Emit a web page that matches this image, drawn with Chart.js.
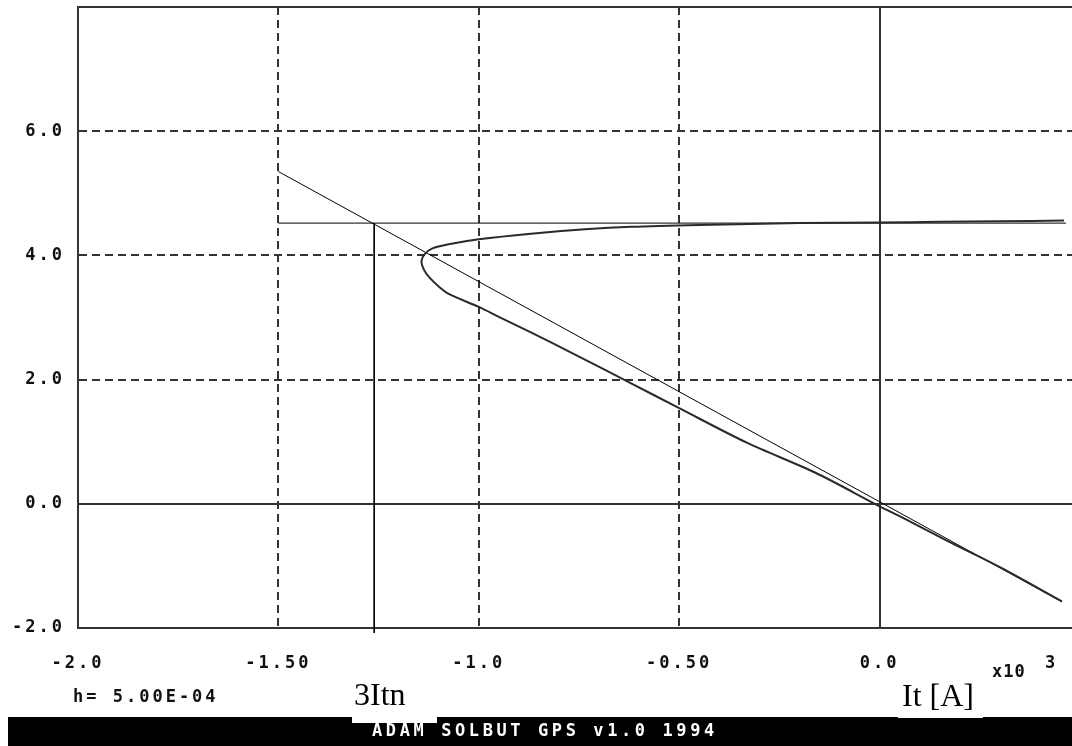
<!DOCTYPE html>
<html>
<head>
<meta charset="utf-8">
<script src="https://cdn.jsdelivr.net/npm/chart.js@4"></script>
<style>
  body { margin: 0; background: #fff; overflow: hidden; }
  #wrap { position: absolute; left: 0; top: 0; width: 1072px; height: 746px; }
  .mono { position: absolute; font-family: "DejaVu Sans Mono", monospace; font-weight: bold; font-size: 17px; line-height: 17px; color: #111; letter-spacing: 3px; white-space: nowrap; }
  .serif { position: absolute; font-family: "Liberation Serif", "Times New Roman", serif; font-size: 32px; line-height: 32px; color: #000; white-space: nowrap; }
  .box { position: absolute; background: #fff; }
  #bar { position: absolute; left: 8px; top: 717px; width: 1064px; height: 29px; background: #000; }
</style>
</head>
<body>
<div id="wrap"><canvas id="chart"></canvas></div>
<div id="bar"></div>
<div class="box" style="left:352px; top:676px; width:85px; height:47px;"></div>
<div class="box" style="left:898px; top:676px; width:85px; height:42px;"></div>
<div class="mono" style="left:73px; top:688px;">h= 5.00E-04</div>
<div class="mono" style="left:992px; top:663px; letter-spacing:1px;">x10</div>
<div class="mono" style="left:1045px; top:654px;">3</div>
<div class="mono" style="left:372px; top:722px; color:#fff; letter-spacing:3.6px;">ADAM SOLBUT GPS v1.0 1994</div>
<div class="serif" style="left:354px; top:678px;">3Itn</div>
<div class="serif" style="left:902px; top:679px;">It [A]</div>
<script>
// tick values and labels
const xTicks = [-2, -1.5, -1, -0.5, 0];
const xTickLabels = ["-2.0", "-1.50", "-1.0", "-0.50", "0.0"];
const yTicks = [-2, 0, 2, 4, 6];
const yTickLabels = ["-2.0", "0.0", "2.0", "4.0", "6.0"];

// characteristic curve (upper branch right->left, nose, lower branch left->right)
const curveX = [0.46, 0.3, 0.15, 0.0, -0.2, -0.45, -0.62, -0.735, -0.87, -1.0, -1.075, -1.117, -1.135, -1.143,
  -1.137, -1.124, -1.1, -1.075, -1.0, -0.95, -0.87, -0.75, -0.62, -0.5, -0.33, -0.16, 0.0, 0.05, 0.17, 0.3, 0.455];
const curveY = [4.56, 4.55, 4.54, 4.53, 4.52, 4.49, 4.46, 4.42, 4.35, 4.26, 4.18, 4.11, 4.02, 3.91,
  3.77, 3.65, 3.5, 3.38, 3.17, 3.01, 2.76, 2.37, 1.94, 1.54, 0.98, 0.5, -0.04, -0.2, -0.6, -1.02, -1.57];

// straight load line
const loadX = [-1.5, 0.455];
const loadY = [5.35, -1.58];

// 3Itn marker lines
const levelX = [-1.5, 0.465];
const levelY = [4.52, 4.52];
const itnX = [-1.261, -1.261];
const itnY = [4.52, -2.08];

function pts(xs, ys) {
  return xs.map((x, i) => ({ x: x, y: ys[i] }));
}

const tickFont = { family: "DejaVu Sans Mono", weight: "bold", size: 17 };

const spacingPlugin = {
  id: "spacing",
  beforeDraw(chart) { chart.ctx.letterSpacing = "3px"; },
  afterDraw(chart) {
    chart.ctx.letterSpacing = "0px";
    // top frame line
    const a = chart.chartArea;
    const ctx = chart.ctx;
    ctx.save();
    ctx.strokeStyle = "#333";
    ctx.lineWidth = 2;
    ctx.beginPath();
    ctx.moveTo(a.left - 1, Math.round(a.top));
    ctx.lineTo(a.right, Math.round(a.top));
    ctx.stroke();
    ctx.restore();
  }
};

function noPad(scale) {
  scale.paddingTop = 0;
  scale.paddingBottom = 0;
  scale.paddingLeft = 0;
  scale.paddingRight = 0;
}

const lineStyle = { showLine: true, pointRadius: 0, fill: false, tension: 0 };

new Chart(document.getElementById("chart"), {
  type: "scatter",
  data: {
    datasets: [
      Object.assign({}, lineStyle, { data: pts(curveX, curveY), borderColor: "#2a2a2a", borderWidth: 2, tension: 0.3 }),
      Object.assign({ data: pts(loadX, loadY), borderColor: "#000", borderWidth: 1 }, lineStyle),
      Object.assign({ data: pts(levelX, levelY), borderColor: "#000", borderWidth: 1 }, lineStyle),
      Object.assign({ data: pts(itnX, itnY), borderColor: "#000", borderWidth: 1, clip: false }, lineStyle),
    ],
  },
  options: {
    responsive: true,
    maintainAspectRatio: false,
    animation: false,
    layout: { autoPadding: false, padding: { top: 7, right: 0, left: 0, bottom: 0 } },
    plugins: { legend: { display: false }, tooltip: { enabled: false } },
    scales: {
      x: {
        type: "linear",
        min: -2,
        max: 0.48,
        afterBuildTicks: (scale) => { scale.ticks = xTicks.map((v) => ({ value: v })); },
        afterFit: (scale) => { scale.height = 118; noPad(scale); },
        ticks: {
          autoSkip: false,
          maxRotation: 0,
          padding: 25,
          color: "#111",
          font: tickFont,
          callback: (v) => xTickLabels[xTicks.indexOf(v)],
        },
        grid: {
          drawTicks: false,
          lineWidth: 2,
          color: (ctx) => (ctx.tick && ctx.tick.value === -2 ? "rgba(0,0,0,0)" : "#333"),
        },
        border: {
          display: true,
          color: "#333",
          width: 2,
          dash: (ctx) => (ctx.tick && ctx.tick.value === 0 ? [] : [8, 5]),
        },
      },
      y: {
        type: "linear",
        min: -2,
        max: 8,
        afterBuildTicks: (scale) => { scale.ticks = yTicks.map((v) => ({ value: v })); },
        afterFit: (scale) => { scale.width = 78; noPad(scale); },
        ticks: {
          autoSkip: false,
          padding: 13,
          color: "#111",
          font: tickFont,
          callback: (v) => yTickLabels[yTicks.indexOf(v)],
        },
        grid: {
          drawTicks: false,
          lineWidth: 2,
          color: (ctx) => (ctx.tick && ctx.tick.value === -2 ? "rgba(0,0,0,0)" : "#333"),
        },
        border: {
          display: true,
          color: "#333",
          width: 2,
          dash: (ctx) => (ctx.tick && ctx.tick.value === 0 ? [] : [8, 5]),
        },
      },
    },
  },
  plugins: [spacingPlugin],
});
</script>
</body>
</html>
